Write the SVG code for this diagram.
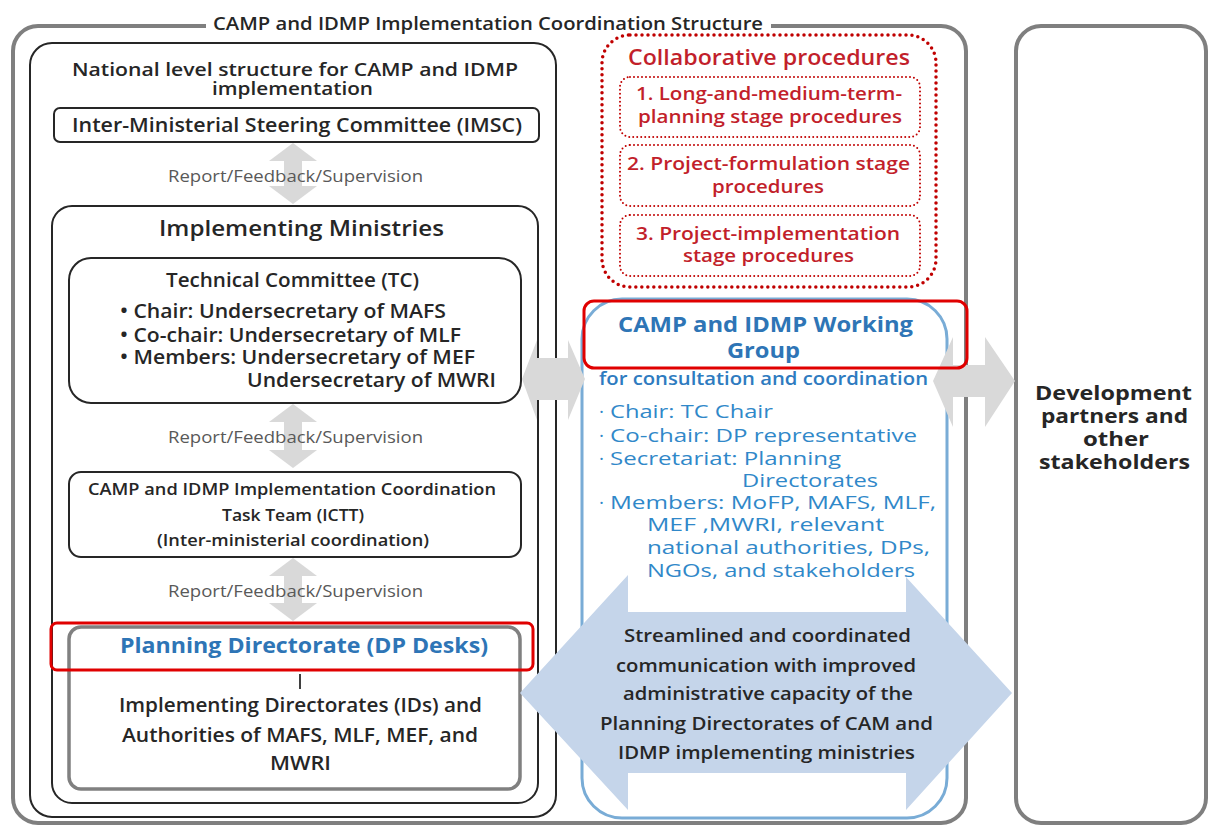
<svg xmlns="http://www.w3.org/2000/svg" width="1208" height="827" viewBox="0 0 1208 827">
<defs>
<style>
text{font-family:"Open Sans","Liberation Sans",sans-serif;}
.dk{fill:#262626;font-weight:600;}
.rp{fill:#595959;font-size:16px;font-weight:400;}
.rd{fill:#c21f2b;font-weight:600;}
.bh{fill:#2e75b6;font-weight:700;}
.bb{fill:#3088c9;font-size:19px;font-weight:400;}
.bk{fill:none;stroke:#262626;stroke-width:2;}
.gy{fill:none;stroke:#7f7f7f;stroke-width:4;}
.ga{fill:#d9d9d9;}
.hl{fill:none;stroke:#e00000;stroke-width:3;}
.dot1{fill:none;stroke:#c00000;stroke-width:3.5;stroke-dasharray:0 6;stroke-linecap:round;}
.dot2{fill:none;stroke:#c00000;stroke-width:2;stroke-dasharray:0 4;stroke-linecap:round;}
</style>
</defs>
<rect width="1208" height="827" fill="#ffffff"/>

<g id="frame">
<rect class="gy" x="13" y="26" width="953" height="797" rx="25"/>
<rect x="206" y="16" width="565" height="18" fill="#ffffff"/>
<text class="dk" x="213" y="30" font-size="18" textLength="550" lengthAdjust="spacingAndGlyphs">CAMP and IDMP Implementation Coordination Structure</text>
</g>

<g id="dp">
<rect class="gy" x="1016" y="26" width="190" height="797" rx="25"/>
<text font-weight="700" fill="#262626" font-size="19.5" x="1035" y="400" textLength="157" lengthAdjust="spacingAndGlyphs">Development</text>
<text font-weight="700" fill="#262626" font-size="19.5" x="1041" y="423" textLength="147" lengthAdjust="spacingAndGlyphs">partners and</text>
<text font-weight="700" fill="#262626" font-size="19.5" x="1083" y="446" textLength="66" lengthAdjust="spacingAndGlyphs">other</text>
<text font-weight="700" fill="#262626" font-size="19.5" x="1039" y="469" textLength="151" lengthAdjust="spacingAndGlyphs">stakeholders</text>
</g>

<g id="national">
<rect class="bk" x="30" y="43" width="526" height="774" rx="22"/>
<text class="dk" x="72" y="76" font-size="18.5" textLength="446" lengthAdjust="spacingAndGlyphs">National level structure for CAMP and IDMP</text>
<text class="dk" x="212" y="95" font-size="18.5" textLength="161" lengthAdjust="spacingAndGlyphs">implementation</text>
</g>

<g id="imsc">
<rect class="bk" x="54" y="108" width="485" height="34" rx="6"/>
<text class="dk" x="72" y="132" font-size="19" textLength="450" lengthAdjust="spacingAndGlyphs">Inter-Ministerial Steering Committee (IMSC)</text>
</g>

<g id="ministries">
<rect class="bk" x="52" y="206" width="486" height="597" rx="20"/>
<text class="dk" x="159" y="236" font-size="22" textLength="285" lengthAdjust="spacingAndGlyphs">Implementing Ministries</text>
</g>

<g id="tc">
<rect class="bk" x="69" y="258" width="452" height="145" rx="22"/>
<text class="dk" x="166" y="287" font-size="19" textLength="253" lengthAdjust="spacingAndGlyphs">Technical Committee (TC)</text>
<text class="dk" x="120" y="318" font-size="19" textLength="326" lengthAdjust="spacingAndGlyphs">• Chair: Undersecretary of MAFS</text>
<text class="dk" x="120" y="342" font-size="19" textLength="341" lengthAdjust="spacingAndGlyphs">• Co-chair: Undersecretary of MLF</text>
<text class="dk" x="120" y="364" font-size="19" textLength="355" lengthAdjust="spacingAndGlyphs">• Members: Undersecretary of MEF</text>
<text class="dk" x="247" y="387" font-size="19" textLength="249" lengthAdjust="spacingAndGlyphs">Undersecretary of MWRI</text>
</g>

<g id="ictt">
<rect class="bk" x="69" y="472" width="452" height="85" rx="12"/>
<text class="dk" x="88" y="495" font-size="16.5" textLength="408" lengthAdjust="spacingAndGlyphs">CAMP and IDMP Implementation Coordination</text>
<text class="dk" x="222" y="521" font-size="16.5" textLength="142" lengthAdjust="spacingAndGlyphs">Task Team (ICTT)</text>
<text class="dk" x="157" y="546" font-size="16.5" textLength="272" lengthAdjust="spacingAndGlyphs">(Inter-ministerial coordination)</text>
</g>

<g id="planning">
<rect fill="none" stroke="#808080" stroke-width="3.5" x="69" y="627" width="451" height="162" rx="12"/>
<text class="bh" x="120" y="653" font-size="22" textLength="368" lengthAdjust="spacingAndGlyphs">Planning Directorate (DP Desks)</text>
<line x1="300" y1="674" x2="300" y2="689" stroke="#404040" stroke-width="2"/>
<text class="dk" x="119" y="712" font-size="19" textLength="363" lengthAdjust="spacingAndGlyphs">Implementing Directorates (IDs) and</text>
<text class="dk" x="122" y="742" font-size="19" textLength="356" lengthAdjust="spacingAndGlyphs">Authorities of MAFS, MLF, MEF, and</text>
<text class="dk" x="270" y="770" font-size="19" textLength="61" lengthAdjust="spacingAndGlyphs">MWRI</text>
</g>

<g id="collaborative">
<rect class="dot1" x="602" y="35" width="334" height="252" rx="28"/>
<text class="rd" x="628" y="65" font-size="21" textLength="282" lengthAdjust="spacingAndGlyphs">Collaborative procedures</text>
<rect class="dot2" x="620" y="77" width="300" height="60" rx="10"/>
<text class="rd" x="636" y="100" font-size="18" textLength="266" lengthAdjust="spacingAndGlyphs">1. Long-and-medium-term-</text>
<text class="rd" x="638" y="123" font-size="18" textLength="264" lengthAdjust="spacingAndGlyphs">planning stage procedures</text>
<rect class="dot2" x="620" y="145" width="300" height="61" rx="10"/>
<text class="rd" x="627" y="170" font-size="18" textLength="283" lengthAdjust="spacingAndGlyphs">2. Project-formulation stage</text>
<text class="rd" x="712" y="193" font-size="18" textLength="112" lengthAdjust="spacingAndGlyphs">procedures</text>
<rect class="dot2" x="620" y="215" width="300" height="61" rx="10"/>
<text class="rd" x="636" y="240" font-size="18" textLength="264" lengthAdjust="spacingAndGlyphs">3. Project-implementation</text>
<text class="rd" x="683" y="262" font-size="18" textLength="171" lengthAdjust="spacingAndGlyphs">stage procedures</text>
</g>

<g id="working-group">
<rect fill="none" stroke="#79acd6" stroke-width="3" x="582" y="299" width="365" height="519" rx="40"/>
<text class="bh" x="618" y="332" font-size="21" textLength="295" lengthAdjust="spacingAndGlyphs">CAMP and IDMP Working</text>
<text class="bh" x="727" y="358" font-size="21" textLength="73" lengthAdjust="spacingAndGlyphs">Group</text>
<text fill="#2e7bc0" font-weight="600" x="599" y="385" font-size="17.5" textLength="329" lengthAdjust="spacingAndGlyphs">for consultation and coordination</text>
<text class="bb" font-weight="700" font-size="21" x="599" y="418">·</text>
<text class="bb" x="610" y="418" textLength="163" lengthAdjust="spacingAndGlyphs">Chair: TC Chair</text>
<text class="bb" font-weight="700" font-size="21" x="599" y="442">·</text>
<text class="bb" x="610" y="442" textLength="307" lengthAdjust="spacingAndGlyphs">Co-chair: DP representative</text>
<text class="bb" font-weight="700" font-size="21" x="599" y="465">·</text>
<text class="bb" x="610" y="465" textLength="231" lengthAdjust="spacingAndGlyphs">Secretariat: Planning</text>
<text class="bb" x="742" y="487" textLength="136" lengthAdjust="spacingAndGlyphs">Directorates</text>
<text class="bb" font-weight="700" font-size="21" x="599" y="509">·</text>
<text class="bb" x="610" y="509" textLength="326" lengthAdjust="spacingAndGlyphs">Members: MoFP, MAFS, MLF,</text>
<text class="bb" x="647" y="531" textLength="237" lengthAdjust="spacingAndGlyphs">MEF ,MWRI, relevant</text>
<text class="bb" x="647" y="554" textLength="283" lengthAdjust="spacingAndGlyphs">national authorities, DPs,</text>
<text class="bb" x="647" y="577" textLength="268" lengthAdjust="spacingAndGlyphs">NGOs, and stakeholders</text>
</g>

<g id="connectors">
<polygon class="ga" points="293,143 317,161 302,161 302,186 317,186 293,204 269,186 284,186 284,161 269,161"/>
<polygon class="ga" points="293,404 317,422 302,422 302,450 317,450 293,468 269,450 284,450 284,422 269,422"/>
<polygon class="ga" points="293,558 317,576 302,576 302,603 317,603 293,621 269,603 284,603 284,576 269,576"/>
<text class="rp" x="168" y="182" textLength="255" lengthAdjust="spacingAndGlyphs">Report/Feedback/Supervision</text>
<text class="rp" x="168" y="443" textLength="255" lengthAdjust="spacingAndGlyphs">Report/Feedback/Supervision</text>
<text class="rp" x="168" y="597" textLength="255" lengthAdjust="spacingAndGlyphs">Report/Feedback/Supervision</text>
<polygon class="ga" points="522,379 537,340 537,358 568,358 568,340 585,379 568,420 568,400 537,400 537,420"/>
<polygon class="ga" points="933,381 953,337 953,365 985,365 985,337 1015,381 985,427 985,397 953,397 953,427"/>
<polygon fill="#c5d5ea" points="520,693 628,575 628,612 906,612 906,577 1012,693 906,810 906,773 628,773 628,810"/>
<text class="dk" x="624" y="642" font-size="17.5" textLength="287" lengthAdjust="spacingAndGlyphs">Streamlined and coordinated</text>
<text class="dk" x="616" y="672" font-size="17.5" textLength="300" lengthAdjust="spacingAndGlyphs">communication with improved</text>
<text class="dk" x="623" y="700" font-size="17.5" textLength="290" lengthAdjust="spacingAndGlyphs">administrative capacity of the</text>
<text class="dk" x="600" y="730" font-size="17.5" textLength="333" lengthAdjust="spacingAndGlyphs">Planning Directorates of CAM and</text>
<text class="dk" x="618" y="759" font-size="17.5" textLength="297" lengthAdjust="spacingAndGlyphs">IDMP implementing  ministries</text>
</g>

<g id="highlights">
<rect class="hl" x="584" y="301" width="383" height="67" rx="10"/>
<rect class="hl" x="51" y="623" width="482" height="47" rx="6"/>
</g>
</svg>
